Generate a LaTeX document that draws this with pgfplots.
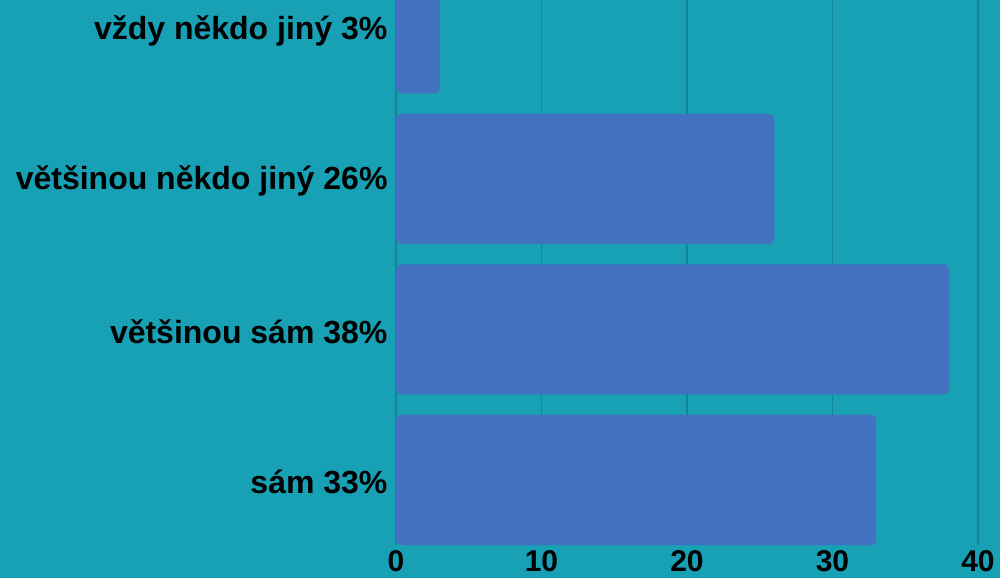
\documentclass[border=0pt]{standalone}
\usepackage{fontspec}
\setmainfont{Liberation Sans}
\usepackage{pgfplots}
\pgfplotsset{compat=1.18}
\definecolor{bgteal}{RGB}{24,160,180}
\definecolor{barblue}{RGB}{68,112,192}
\definecolor{gridteal}{RGB}{18,134,152}
\begin{document}
\begin{tikzpicture}
\clip (-396pt,-33pt) rectangle (604pt,545pt);
\fill[bgteal] (-396pt,-33pt) rectangle (604pt,545pt);
\begin{axis}[
  scale only axis,
  width=582pt, height=545pt,
  xmin=0, xmax=40,
  ymin=-0.4319, ymax=3.1894,
  xbar, bar width=130pt,
  axis line style={draw=none},
  major tick length=0pt,
  xtick={0,10,20,30,40},
  xmajorgrids,
  grid style={gridteal, line width=1.2pt},
  ytick={0,1,2,3},
  yticklabels={sám 33\%, většinou sám 38\%, většinou někdo jiný 26\%, vždy někdo jiný 3\%},
  yticklabel style={font=\bfseries\fontsize{32}{32}\selectfont, xshift=-5pt, yshift=-2pt},
  xticklabel style={font=\bfseries\fontsize{30}{30}\selectfont, yshift=-2pt},
  /pgf/number format/assume math mode=true,
]
\addplot[fill=barblue, draw=none, rounded corners=5pt] coordinates {
  (33,0) (38,1) (26,2) (3,3)
};
\end{axis}
\end{tikzpicture}
\end{document}
